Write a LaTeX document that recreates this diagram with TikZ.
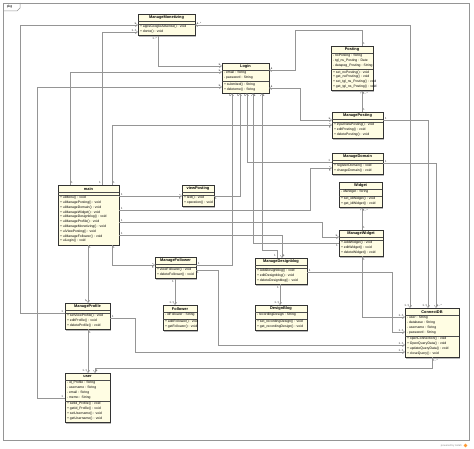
\documentclass[tikz,border=0pt]{standalone}
\usepackage{fontspec}
\setmainfont{Liberation Sans}
\usetikzlibrary{arrows.meta}
\definecolor{clsfill}{HTML}{FFFDE3}
\definecolor{lnc}{HTML}{959595}
\definecolor{shadowc}{HTML}{B8B8B8}
\tikzset{
  classbox/.style={draw=black!80, line width=0.5pt, fill=clsfill, inner sep=0pt, outer sep=0pt},
  sepline/.style={draw=black!70, line width=0.35pt},
  titlef/.style={font=\bfseries\fontsize{3.9}{4.6}\selectfont, inner sep=0pt},
  bodyf/.style={font=\fontsize{3.4}{4.8}\selectfont, align=left, inner sep=0pt},
  assoc/.style={draw=lnc, line width=0.4pt},
  mult/.style={font=\fontsize{3}{3.5}\selectfont, inner sep=0.2pt, text=black!75},
  ml/.style={mult, anchor=south east, xshift=-1.5pt, yshift=0.4pt},
  mr/.style={mult, anchor=south west, xshift=1.5pt, yshift=0.4pt},
  mtl/.style={mult, anchor=south east, xshift=-0.8pt, yshift=1.2pt},
  mtr/.style={mult, anchor=south west, xshift=0.8pt, yshift=1.2pt},
  mbl/.style={mult, anchor=north east, xshift=-0.8pt, yshift=-1.2pt},
  mbr/.style={mult, anchor=north west, xshift=0.8pt, yshift=-1.2pt},
}
\newcommand\umlclass[9]{%
  \pgfmathsetmacro\clsA{ifthenelse(#5==0,3,2+4.8*#5)}%
  \pgfmathsetmacro\clsO{2+4.8*#6}%
  \pgfmathsetmacro\clsYt{#3+7}%
  \pgfmathsetmacro\clsYa{#3+7+\clsA}%
  \pgfmathsetmacro\clsYb{#3+7+\clsA+\clsO}%
  \pgfmathsetmacro\clsXr{#2+#4}%
  \pgfmathsetmacro\clsH{\clsYb-#3}%
  \fill[shadowc] (#2+1.3,#3+1.3) rectangle (\clsXr+1.3,\clsYb+1.3);
  \node[classbox, anchor=north west, minimum width=#4pt, minimum height=\clsH pt] (#1) at (#2,#3) {};
  \draw[sepline] (#2,\clsYt) -- (\clsXr,\clsYt);
  \draw[sepline] (#2,\clsYa) -- (\clsXr,\clsYa);
  \node[titlef] at ({#2+#4/2},{#3+3.7}) {#7};
  \node[bodyf, anchor=north west] at (#2+1.8,\clsYt+1.1) {#8};
  \node[bodyf, anchor=north west] at (#2+1.8,\clsYa+1.1) {#9};
}
\begin{document}
\begin{tikzpicture}[x=1pt,y=-1pt,>={Straight Barb[length=2.4pt,width=3.6pt]}]
\useasboundingbox (0,0) rectangle (474,449);
\fill[white] (0,0) rectangle (474,449);
% frame
\draw[lnc, line width=0.5pt] (3,3) rectangle (469,440);
\draw[lnc, line width=0.5pt] (3,11) -- (17,11) -- (20,8) -- (20,3);
\node[font=\fontsize{3.4}{4}\selectfont, inner sep=0pt] (pkg) at (9.5,7) {pkg};
\node[font=\fontsize{2.6}{3}\selectfont, text=black!45, inner sep=0pt, anchor=east] (pw) at (462,445.5) {powered by Astah};
\fill[orange!80] (465.5,445.5) circle (1.8);

% classes
\umlclass{mm}{138}{14}{57}{0}{2}{ManageMonetizing}{}{+ appsGoogleAdsense() : void\\+ donte() : void}
\umlclass{login}{222}{63}{47}{2}{2}{Login}{- email : String\\- password : String}{+ submited() : String\\+ deleteme() : String}
\umlclass{posting}{331}{46}{42}{3}{4}{Posting}{- noPosting : String\\- tgl\_ns\_Posting : Date\\- datapeg\_Posting : String}{+ set\_noPosting() : void\\+ get\_noPosting() : void\\+ set\_tgl\_ns\_Posting() : void\\+ get\_tgl\_ns\_Posting() : void}
\umlclass{mpost}{332}{112}{51}{0}{3}{ManagePosting}{}{+ inputNewPosting() : void\\+ editPosting() : void\\+ deletePosting() : void}
\umlclass{mdom}{332}{153}{51}{0}{2}{ManageDomain}{}{+ registerDomain() : void\\+ changeDomain() : void}
\umlclass{widget}{339}{182}{43}{1}{2}{Widget}{- idWidget : String}{+ set\_idWidget() : void\\+ get\_idWidget() : void}
\umlclass{mwid}{339}{230}{44}{0}{3}{ManageWidget}{}{+ AddWidget() : void\\+ editWidget() : void\\+ deleteWidget() : void}
\umlclass{main}{58}{185}{61}{0}{10}{main}{}{+ uiMenu() : void\\+ uiManagePosting() : void\\+ uiManageDomain() : void\\+ uiManageWidget() : void\\+ uiManageDesignblog() : void\\+ uiManageProfile() : void\\+ uiManageMonetizing() : void\\+ uiViewPosting() : void\\+ uiManageFollower() : void\\+ uiLogin() : void}
\umlclass{vp}{182}{185}{32}{0}{2}{viewPosting}{}{+ text() : void\\+ operation() : void}
\umlclass{mfol}{155}{257}{41}{0}{2}{ManageFollower}{}{+ viewFollower() : void\\+ deleteFollower() : void}
\umlclass{fol}{163}{305}{34}{1}{2}{Follower}{- idFollower : String}{+ addFollower() : void\\+ getFollower() : void}
\umlclass{mdes}{255}{258}{52}{0}{3}{ManageDesignblog}{}{+ AddDesignblog() : void\\+ editDesignblog() : void\\+ deleteDesignblog() : void}
\umlclass{des}{255}{305}{52}{1}{2}{DesignBlog}{- recordingDesign : String}{+ set\_recordingDesign() : void\\+ get\_recordingDesign() : void}
\umlclass{mprof}{65}{303}{45}{0}{3}{ManageProfile}{}{+ setViewProfile() : void\\+ editProfile() : void\\+ deleteProfile() : void}
\umlclass{user}{65}{373}{45}{4}{4}{user}{- id\_Profile : String\\- username : String\\- email : String\\- memo : String}{+ setId\_Profile() : void\\+ getId\_Profile() : void\\+ setUsername() : void\\+ getUsername() : void}
\umlclass{cdb}{405}{308}{54}{4}{4}{ConnectDB}{- user : String\\- database : String\\- username : String\\- password : String}{+ openConnection() : void\\+ OpenQueryData() : void\\+ updateQueryData() : void\\+ closeQuery() : void}

% connectors
\draw[assoc,->] ([yshift=-10pt]mprof.north west) node[ml]{1} -- (20,313) |- ([yshift=-11pt]mm.north west) node[ml]{1};
\draw[assoc,->] ([xshift=44pt]main.north west) node[mtl]{1} |- ([yshift=-18pt]mm.north west) node[ml]{1..*};
\draw[assoc,->] ([xshift=20pt]mm.south west) node[mbl]{1..*} |- ([yshift=-3pt]login.north west) node[ml]{1};
\draw[assoc,->] ([xshift=12pt]main.north west) node[mtr]{1} |- ([yshift=-9pt]login.north west) node[ml]{1};
\draw[assoc,->] ([yshift=-25pt]user.north west) node[ml]{1} -- (37,398) |- ([yshift=-24pt]login.north west) node[ml]{1};
\draw[assoc,<->] ([yshift=-11pt]mm.north east) node[mr]{1..*} -| ([xshift=5pt]cdb.north west) node[mtl]{1..*};
\draw[assoc,<-] ([yshift=-7pt]login.north east) node[mr]{1} -| (295,30) -| ([xshift=31pt]posting.north west) node[mtr]{1};
\draw[assoc,<-] ([xshift=31pt]posting.south west) node[mbr]{1..*} -- ([xshift=30pt]mpost.north west) node[mtr]{1};
\draw[assoc,<->] ([yshift=-25pt]login.north east) node[mr]{1} -| (300,120) -- ([yshift=-8pt]mpost.north west) node[ml]{1};
\draw[assoc,->] ([xshift=54pt]main.north west) node[mtr]{1} |- ([yshift=-13pt]mpost.north west) node[mbl]{1};
\draw[assoc,->] ([yshift=-8pt]mpost.north east) node[mr]{1} -| ([xshift=23pt]cdb.north west) node[mtl]{1..*};
\draw[assoc,->] ([yshift=-10pt]mdom.north east) node[mr]{1} -| ([xshift=31pt]cdb.north west) node[mtr]{1..*};
\draw[assoc,->] ([yshift=-11pt]vp.north east) node[mbr]{1} -| ([xshift=18pt]login.south west) node[mbl]{1};
\draw[assoc,->] ([yshift=-11pt]main.north east) node[mr]{1} -- ([yshift=-11pt]vp.north west) node[mbl]{1};
\draw[assoc,->] ([yshift=-9pt]mdom.north west) node[ml]{1} -| ([xshift=25pt]login.south west) node[mbl]{1};
\draw[assoc,->] ([yshift=-25pt]main.north east) node[mr]{1} -| (310,168) -- ([yshift=-15pt]mdom.north west) node[mbl]{1};
\draw[assoc,->] ([yshift=-13pt]mwid.north west) node[mbl]{1} -| ([xshift=31pt]login.south west) node[mbr]{1};
\draw[assoc,->] ([yshift=-37pt]main.north east) node[mr]{1} -| (322,237) -- ([yshift=-7pt]mwid.north west) node[ml]{1};
\draw[assoc,->] ([yshift=-50pt]main.north east) node[mr]{1} -| ([xshift=27pt]mdes.north west) node[mtr]{1};
\draw[assoc,->] ([xshift=22pt]mdes.north west) node[mtl]{1} |- (262,250) -- ([xshift=40pt]login.south west) node[mbr]{1};
\draw[assoc,->] ([yshift=-8pt]mfol.north east) node[mr]{1} -| ([xshift=10pt]login.south west) node[mbl]{1};
\draw[assoc,->] ([xshift=54pt]main.south west) node[mbr]{1} |- ([yshift=-8pt]mfol.north west) node[mbl]{1};
\draw[assoc,->] ([xshift=30pt]main.south west) node[mbr]{1} -- ([xshift=23pt]mprof.north west) node[mtl]{1};
\draw[assoc,->] ([xshift=23pt]mprof.south west) node[mbr]{1} -- ([xshift=23pt]user.north west) node[mtl]{1..*};
\draw[assoc,->] ([xshift=20pt]mfol.south west) node[mbl]{1} -- ([xshift=12pt]fol.north west) node[mtl]{1..*};
\draw[assoc,->] ([xshift=25pt]mdes.south west) node[mbl]{1} -- ([xshift=25pt]des.north west) node[mtl]{1..*};
\draw[assoc,->] ([xshift=23pt]mwid.south west) node[mbr]{1} |- ([yshift=-9pt]cdb.north west) node[ml]{1..*};
\draw[assoc,->] ([yshift=-14pt]mdes.north east) node[mr]{1} -| (392,332) -- ([yshift=-24pt]cdb.north west) node[ml]{1..*};
\draw[assoc,->] ([yshift=-13pt]mfol.north east) node[mbr]{1} -| (218,345) -- ([yshift=-37pt]cdb.north west) node[ml]{1..*};
\draw[assoc,->] ([yshift=-15pt]mprof.north east) node[mr]{1} -| (135,352) -- ([yshift=-44pt]cdb.north west) node[ml]{1..*};
\draw[assoc,->] ([xshift=23pt]mwid.north west) node[mtr]{1} -- ([xshift=23pt]widget.south west) node[mbr]{1..*};
\draw[assoc,->] ([xshift=27pt]cdb.south west) node[mbr]{1..*} |- (95,368) -- ([xshift=30pt]user.north west) node[mtr]{1};
\end{tikzpicture}
\end{document}
